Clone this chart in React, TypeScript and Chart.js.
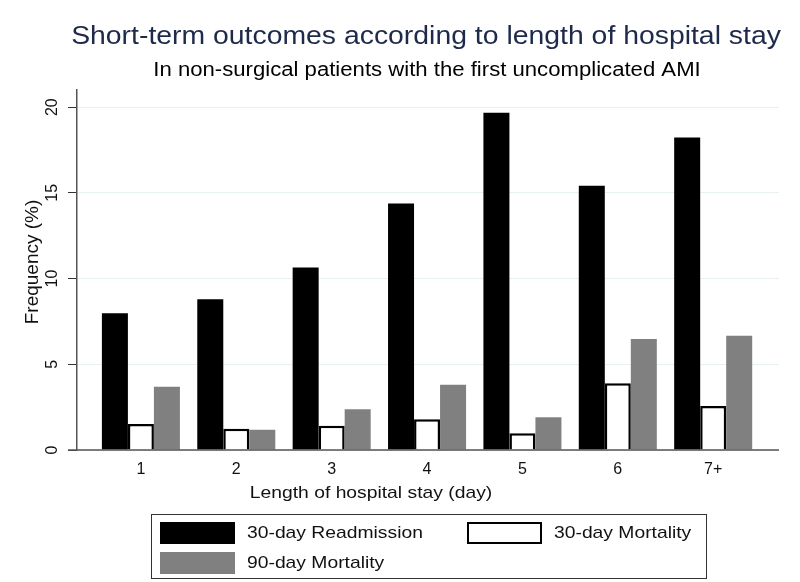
import React, { useEffect, useRef } from "react";
import { Chart, registerables } from "chart.js";

Chart.register(...registerables);

const TITLE = "Short-term outcomes according to length of hospital stay";
const SUBTITLE = "In non-surgical patients with the first uncomplicated AMI";
const X_TITLE = "Length of hospital stay (day)";
const Y_TITLE = "Frequency (%)";

const categories = ["1", "2", "3", "4", "5", "6", "7+"];
const readmission30 = [7.97, 8.8, 10.65, 14.38, 19.67, 15.41, 18.23];
const mortality30 = [1.52, 1.24, 1.42, 1.79, 0.97, 3.89, 2.57];
const mortality90 = [3.69, 1.18, 2.37, 3.81, 1.91, 6.47, 6.66];
const seriesNames = ["30-day Readmission", "30-day Mortality", "90-day Mortality"];
const yTicks = [0, 5, 10, 15, 20];
const Y_MAX = 21;

const FONT = "'Liberation Sans', Arial, sans-serif";
const SX = 1.135;

function stretchText(ctx: any, text: string, x: number, y: number, size: number, sx: number, align: string) {
  ctx.save();
  ctx.font = `${size}px ${FONT}`;
  ctx.textAlign = align;
  ctx.textBaseline = "middle";
  ctx.translate(x, y);
  ctx.scale(sx, 1);
  ctx.fillText(text, 0, 0);
  ctx.restore();
}

const decorPlugin = {
  id: "decor",
  afterDraw(chart: any) {
    const ctx = chart.ctx;
    const ca = chart.chartArea;
    const cx = (ca.left + ca.right) / 2;
    ctx.save();
    // x axis line (extends slightly left of y axis)
    ctx.strokeStyle = "#555";
    ctx.lineWidth = 1.5;
    ctx.beginPath();
    ctx.moveTo(ca.left - 9, ca.bottom);
    ctx.lineTo(ca.right, ca.bottom);
    ctx.stroke();

    // titles
    ctx.fillStyle = "#1e2a4a";
    stretchText(ctx, TITLE, cx - 2, 37, 25, SX, "center");
    ctx.fillStyle = "#000";
    stretchText(ctx, SUBTITLE, cx - 1, 71, 19.5, SX, "center");

    // x axis title
    ctx.fillStyle = "#111";
    stretchText(ctx, X_TITLE, ca.left + 294, ca.bottom + 43, 17, SX, "center");

    // y axis title
    ctx.save();
    ctx.translate(33, 262);
    ctx.rotate(-Math.PI / 2);
    ctx.font = `19px ${FONT}`;
    ctx.textAlign = "center";
    ctx.textBaseline = "middle";
    ctx.fillText(Y_TITLE, 0, 0);
    ctx.restore();

    // legend
    const lx = 151, ly = 514, lw = 555, lh = 64;
    ctx.strokeStyle = "#333";
    ctx.lineWidth = 1;
    ctx.strokeRect(lx + 0.5, ly + 0.5, lw, lh);
    const ds = chart.data.datasets;
    const items = [
      { d: ds[0], x: 160, y: 522 },
      { d: ds[1], x: 467, y: 522 },
      { d: ds[2], x: 160, y: 552 },
    ];
    for (const it of items) {
      ctx.fillStyle = it.d.backgroundColor;
      ctx.fillRect(it.x, it.y, 75, 22);
      if (it.d.borderWidth) {
        ctx.strokeStyle = it.d.borderColor;
        ctx.lineWidth = 2;
        ctx.strokeRect(it.x + 1, it.y + 1, 73, 20);
      }
      ctx.fillStyle = "#111";
      stretchText(ctx, it.d.label, it.x + 87, it.y + 11, 17, SX, "left");
    }
    ctx.restore();
  },
};

export default function App() {
  const ref = useRef<HTMLCanvasElement>(null);
  useEffect(() => {
    if (!ref.current) return;
    const mk = (vals: number[]) => vals.map((v, i) => ({ x: i + 1, y: v }));
    const chart = new Chart(ref.current, {
      type: "bar",
      data: {
        datasets: [
          { label: seriesNames[0], data: mk(readmission30), backgroundColor: "#000000", borderWidth: 0 },
          { label: seriesNames[1], data: mk(mortality30), backgroundColor: "#ffffff", borderColor: "#000000", borderWidth: 2.5 },
          { label: seriesNames[2], data: mk(mortality90), backgroundColor: "#808080", borderWidth: 0 },
        ],
      } as any,
      options: {
        animation: false,
        responsive: false,
        devicePixelRatio: 1,
        layout: { padding: { top: 90, right: 21, bottom: 82, left: 0 } },
        datasets: { bar: { categoryPercentage: 0.818, barPercentage: 1.0 } },
        plugins: { legend: { display: false }, title: { display: false }, tooltip: { enabled: false } },
        scales: {
          x: {
            type: "linear",
            offset: false,
            min: 0.33,
            max: 7.69,
            grid: { display: false, drawTicks: false, offset: false },
            border: { display: false },
            afterBuildTicks: (s: any) => {
              s.ticks = categories.map((_, i) => ({ value: i + 1 }));
            },
            afterFit: (s: any) => {
              s.height = 50;
            },
            ticks: {
              padding: 10,
              color: "#111",
              font: { family: FONT, size: 16 },
              callback: (v: any) => categories[Math.round(v) - 1] ?? "",
              maxRotation: 0,
              autoSkip: false,
            },
          },
          y: {
            min: 0,
            max: Y_MAX,
            afterBuildTicks: (s: any) => {
              s.ticks = yTicks.map((v) => ({ value: v }));
            },
            afterFit: (s: any) => {
              s.width = 77;
            },
            grid: { color: "#e8f0f0", tickColor: "#333", tickLength: 9, lineWidth: 1 },
            border: { display: true, color: "#555", width: 1.5 },
            ticks: {
              minRotation: 90,
              maxRotation: 90,
              crossAlign: "center",
              padding: 7,
              color: "#111",
              font: { family: FONT, size: 16 },
            },
          },
        },
      } as any,
      plugins: [decorPlugin],
    });
    return () => chart.destroy();
  }, []);
  return (
    <div style={{ position: "fixed", left: 0, top: 0, width: 800, height: 582, background: "#fff" }}>
      <canvas ref={ref} width={800} height={582} style={{ width: 800, height: 582 }} />
    </div>
  );
}
